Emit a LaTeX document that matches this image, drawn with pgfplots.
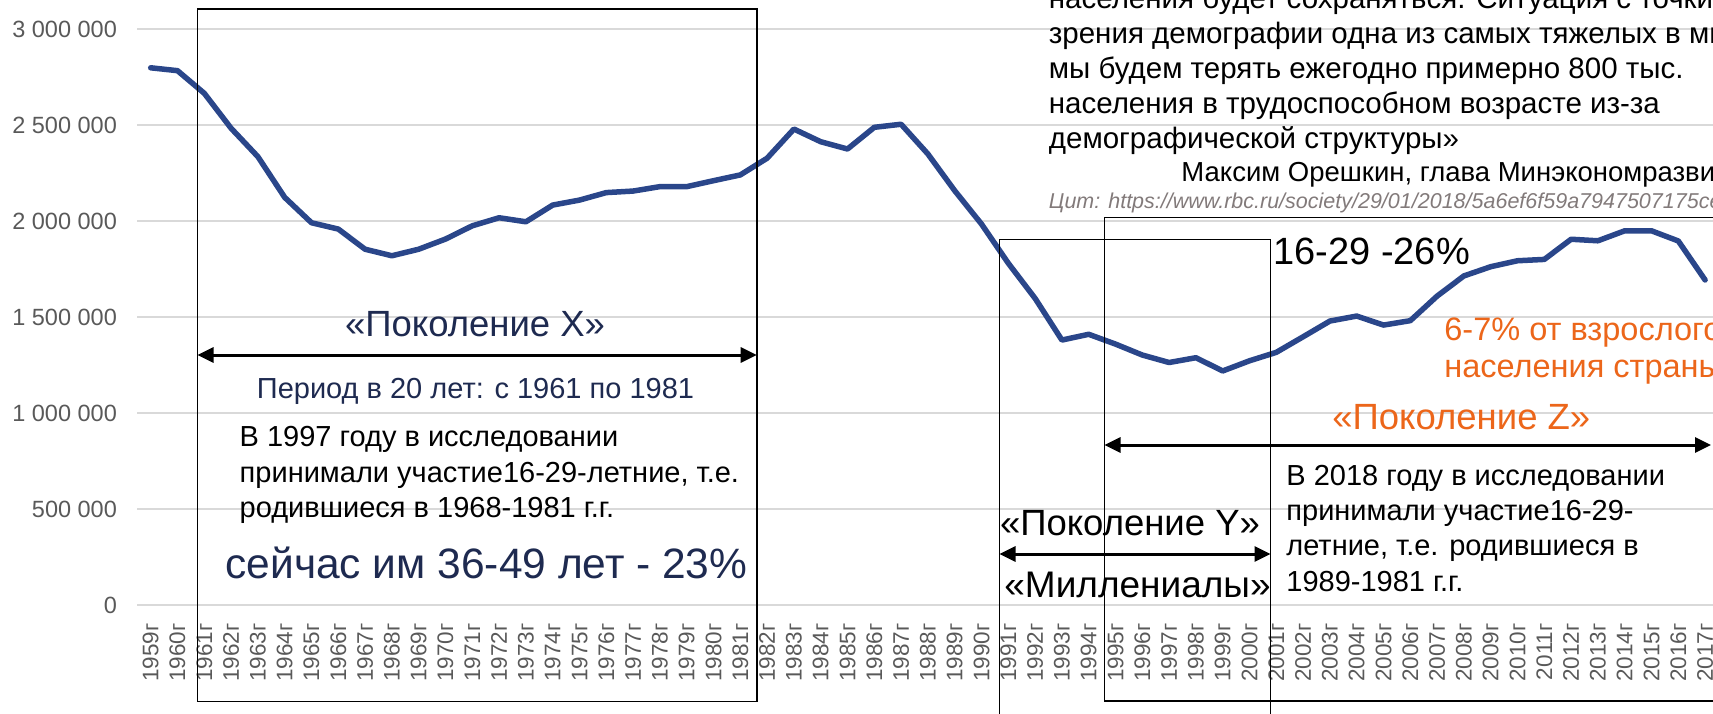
\documentclass[border=0pt]{standalone}
\usepackage{fontspec}
\setmainfont{Liberation Sans}
\usepackage{pgfplots}
\usepackage{pgfplotstable}
\pgfplotsset{compat=1.18}
\usetikzlibrary{arrows.meta}
\definecolor{linecol}{RGB}{42,70,138}
\definecolor{navy}{RGB}{30,42,80}
\definecolor{orng}{RGB}{236,102,26}
\definecolor{gridc}{RGB}{217,217,217}
\definecolor{tickc}{RGB}{89,89,89}
\definecolor{citc}{RGB}{130,122,122}
\newcommand{\fs}[1]{\fontsize{#1pt}{#1pt}\selectfont}
\pgfplotstableread{
x y
0 2798000
1 2783000
2 2665000
3 2483000
4 2335000
5 2123000
6 1991000
7 1958000
8 1853000
9 1819000
10 1853000
11 1906000
12 1975000
13 2017000
14 1996000
15 2083000
16 2109000
17 2148000
18 2156000
19 2179000
20 2179000
21 2210000
22 2240000
23 2327000
24 2479000
25 2413000
26 2375000
27 2488000
28 2504000
29 2349000
30 2158000
31 1984000
32 1780000
33 1597000
34 1380000
35 1410000
36 1359000
37 1302000
38 1263000
39 1288000
40 1219000
41 1272000
42 1316000
43 1397000
44 1479000
45 1505000
46 1458000
47 1481000
48 1609000
49 1714000
50 1762000
51 1793000
52 1800000
53 1905000
54 1897000
55 1949000
56 1949000
57 1896000
58 1693000
}\datatable
\begin{document}
\begin{tikzpicture}
\path[use as bounding box] (0,0) rectangle (856.5pt,-356.5pt);
\clip (0,0) rectangle (856.5pt,-356.5pt);
\begin{axis}[
  at={(68.65pt,-302.5pt)}, anchor=south west,
  scale only axis, width=790.6pt, height=288pt,
  xmin=-0.5, xmax=58.5, ymin=0, ymax=3000000,
  ytick={0,500000,1000000,1500000,2000000,2500000,3000000},
  xtick={0,...,58},
  xticklabels={1959г,1960г,1961г,1962г,1963г,1964г,1965г,1966г,1967г,1968г,1969г,1970г,1971г,1972г,1973г,1974г,1975г,1976г,1977г,1978г,1979г,1980г,1981г,1982г,1983г,1984г,1985г,1986г,1987г,1988г,1989г,1990г,1991г,1992г,1993г,1994г,1995г,1996г,1997г,1998г,1999г,2000г,2001г,2002г,2003г,2004г,2005г,2006г,2007г,2008г,2009г,2010г,2011г,2012г,2013г,2014г,2015г,2016г,2017г},
  scaled y ticks=false,
  /pgf/number format/fixed,
  /pgf/number format/precision=0,
  /pgf/number format/1000 sep={\ },
  /pgf/number format/assume math mode=true,
  ymajorgrids, grid style={gridc, line width=0.75pt},
  axis line style={draw=none}, major tick length=0pt,
  yticklabel style={font=\fs{11.75}, text=tickc, anchor=east, inner sep=0pt},
  yticklabel shift=10pt,
  xticklabel style={font=\fs{11.25}, text=tickc, rotate=90, anchor=east, inner sep=0pt},
  xticklabel shift=9pt,
]
\addplot[color=linecol, line width=2.75pt, line join=round, line cap=round, mark=none] table[x=x,y=y] {\datatable};
\end{axis}
\begin{scope}[x=0.5pt,y=-0.5pt]
% boxes
\draw[line width=0.8pt] (197.5,9) rectangle (756.7,701.5);
\draw[line width=0.6pt] (999.5,239.5) rectangle (1270.5,730);
\draw[line width=0.6pt] (1104.5,217.5) rectangle (1740,701);
% arrows
\draw[line width=1.5pt, {Triangle[length=8pt,width=7.5pt]}-{Triangle[length=8pt,width=7.5pt]}] (197.5,355) -- (756.7,355);
\draw[line width=1.5pt, {Triangle[length=8pt,width=7.5pt]}-{Triangle[length=8pt,width=7.5pt]}] (999.5,554) -- (1270.5,554);
\draw[line width=1.5pt, {Triangle[length=8pt,width=7.5pt]}-{Triangle[length=8pt,width=7.5pt]}] (1104.5,445) -- (1711,445);
% generation X texts
\node[anchor=base, inner sep=0, text=navy, font=\fs{18.25}] at (475,336) {«Поколение X»};
\node[anchor=base west, inner sep=0, text=navy, font=\fs{14.5}] at (256.5,398) {Период в 20 лет: с 1961 по 1981};
\node[anchor=base west, inner sep=0, font=\fs{14.5}] at (239.3,446.5) {В 1997 году в исследовании};
\node[anchor=base west, inner sep=0, font=\fs{14.5}] at (239.3,482) {принимали участие16-29-летние, т.е.};
\node[anchor=base west, inner sep=0, font=\fs{14.5}] at (239.3,517) {родившиеся в 1968-1981 г.г.};
\node[anchor=base west, inner sep=0, text=navy, font=\fs{21.25}] at (225,578) {сейчас им 36-49 лет - 23\%};
% generation Y
\node[anchor=base west, inner sep=0, font=\fs{18.25}] at (999.6,535) {«Поколение Y»};
\node[anchor=base west, inner sep=0, font=\fs{18.5}] at (1004,597) {«Миллениалы»};
\node[anchor=base west, inner sep=0, font=\fs{19}] at (1273,264) {16-29 -26\%};
% generation Z
\node[anchor=base west, inner sep=0, text=orng, font=\fs{18.25}] at (1332,429) {«Поколение Z»};
\node[anchor=base west, inner sep=0, text=orng, font=\fs{16.25}] at (1444,340) {6-7\% от взрослого};
\node[anchor=base west, inner sep=0, text=orng, font=\fs{16.25}] at (1444,377) {населения страны};
\node[anchor=base west, inner sep=0, font=\fs{14.5}] at (1286,485) {В 2018 году в исследовании};
\node[anchor=base west, inner sep=0, font=\fs{14.5}] at (1286,520) {принимали участие16-29-};
\node[anchor=base west, inner sep=0, font=\fs{14.5}] at (1286,555) {летние, т.е. родившиеся в};
\node[anchor=base west, inner sep=0, font=\fs{14.5}] at (1286,591) {1989-1981 г.г.};
% quote
\node[anchor=base west, inner sep=0, font=\fs{14.75}] at (1048.5,8.5) {населения будет сохраняться. Ситуация с точки};
\node[anchor=base west, inner sep=0, font=\fs{14.75}] at (1048.5,43.5) {зрения демографии одна из самых тяжелых в мире,};
\node[anchor=base west, inner sep=0, font=\fs{14.75}] at (1048.5,78.5) {мы будем терять ежегодно примерно 800 тыс.};
\node[anchor=base west, inner sep=0, font=\fs{14.75}] at (1048.5,113.5) {населения в трудоспособном возрасте из-за};
\node[anchor=base west, inner sep=0, font=\fs{14.75}] at (1048.5,148.5) {демографической структуры»};
\node[anchor=base west, inner sep=0, font=\fs{13.75}] at (1181,181) {Максим Орешкин, глава Минэкономразвития};
\node[anchor=base west, inner sep=0, text=citc, font=\fs{10.75}\itshape] at (1048.5,208) {Цит: https://www.rbc.ru/society/29/01/2018/5a6ef6f59a7947507175ce};
\end{scope}
\end{tikzpicture}
\end{document}
